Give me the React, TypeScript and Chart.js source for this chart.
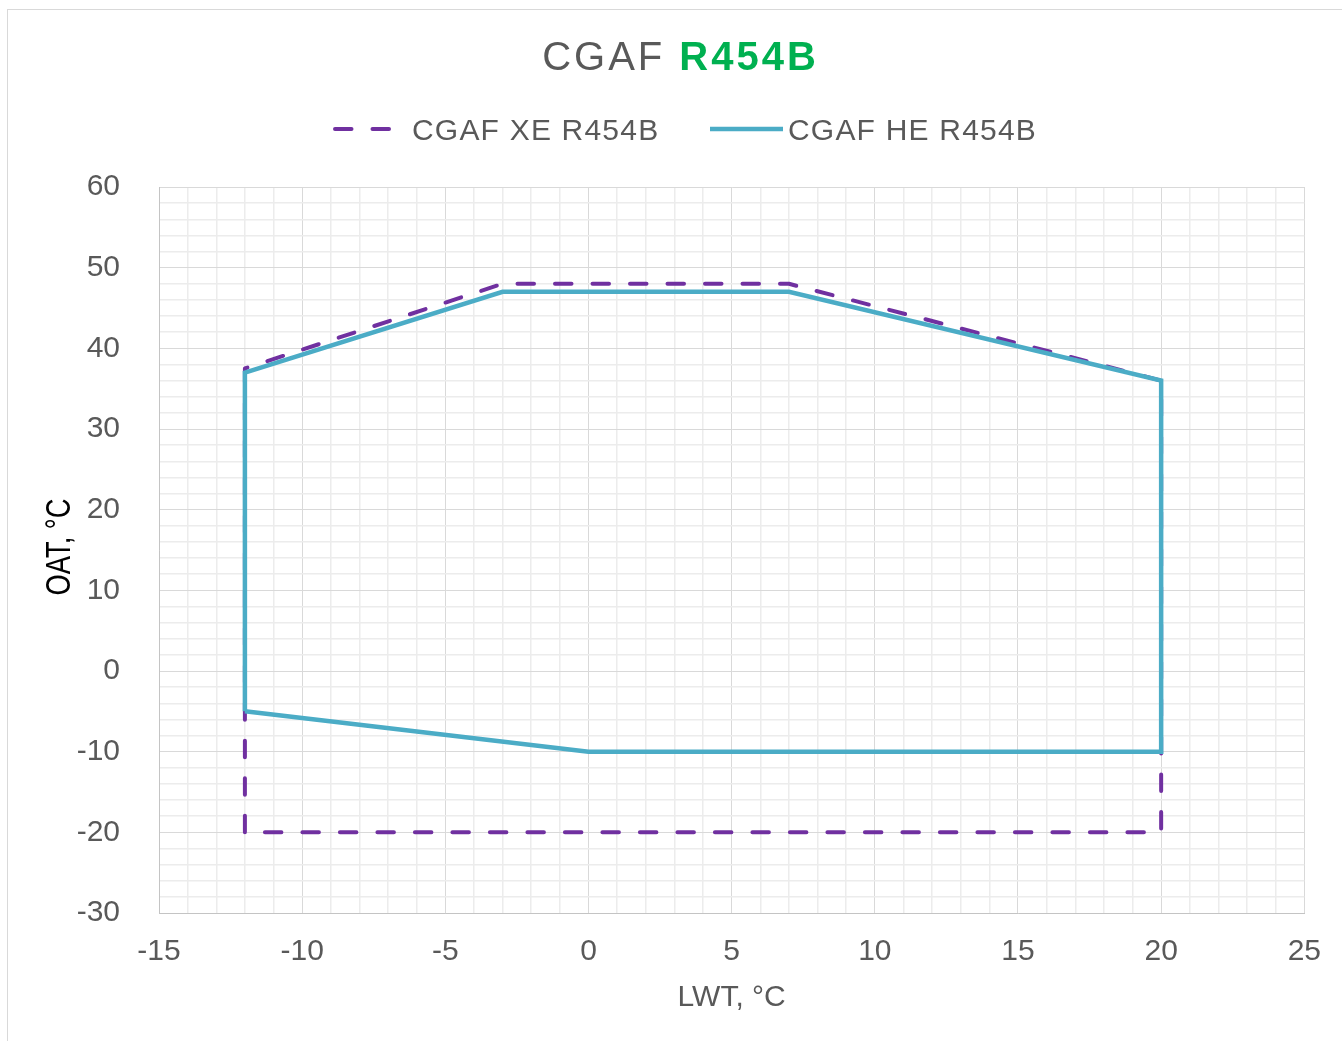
import React, { useEffect, useRef } from 'react';
import { Chart, registerables } from 'chart.js';

Chart.register(...registerables);

// ---- data ----
const titleMain = 'CGAF ';
const titleAccent = 'R454B';
const seriesNames = ['CGAF XE R454B', 'CGAF HE R454B'];
const xeLwt = [-12, -12, -3, 7, 20, 20, -12];
const xeOat = [-20, 37.5, 48, 48, 36, -20, -20];
const heLwt = [-12, -12, -3, 7, 20, 20, 0, -12];
const heOat = [-5, 37, 47, 47, 36, -10, -10, -5];
const xAxisTitle = 'LWT, °C';
const yAxisTitle = 'OAT, °C';
const xMin = -15;
const xMax = 25;
const yMin = -30;
const yMax = 60;
const xLabelStep = 5;
const yLabelStep = 10;
const xGridStep = 1;
const yGridStep = 2;

const FONT = '"Liberation Sans", Arial, sans-serif';
const XE_COLOR = '#7030A0';
const HE_COLOR = '#4BACC6';
const TEXT = '#595959';

const overlayPlugin = {
  id: 'overlay',
  afterDraw(chart: any) {
    const ctx = chart.ctx as CanvasRenderingContext2D;
    const ds = chart.data.datasets;
    ctx.save();
    // title
    (ctx as any).letterSpacing = '3px';
    ctx.textAlign = 'left';
    ctx.textBaseline = 'alphabetic';
    ctx.font = `40px ${FONT}`;
    const w1 = ctx.measureText(titleMain).width;
    ctx.font = `bold 40px ${FONT}`;
    const w2 = ctx.measureText(titleAccent).width;
    const tx = 672.5 - (w1 + w2) / 2;
    ctx.font = `40px ${FONT}`;
    ctx.fillStyle = TEXT;
    ctx.fillText(titleMain, tx, 60);
    ctx.font = `bold 40px ${FONT}`;
    ctx.fillStyle = '#00B050';
    ctx.fillText(titleAccent, tx + w1, 60);

    // legend
    (ctx as any).letterSpacing = '1.2px';
    const ly = 119;
    const items = [
      { x0: 327, x1: 382, tx: 404 },
      { x0: 702, x1: 775, tx: 780 },
    ];
    items.forEach((it, i) => {
      const d = ds[i];
      ctx.save();
      ctx.strokeStyle = d.borderColor;
      ctx.lineWidth = d.borderWidth;
      ctx.lineCap = d.borderCapStyle || 'butt';
      ctx.setLineDash(d.borderDash || []);
      ctx.beginPath();
      ctx.moveTo(it.x0, ly);
      ctx.lineTo(it.x1, ly);
      ctx.stroke();
      ctx.restore();
      ctx.font = `30px ${FONT}`;
      ctx.fillStyle = TEXT;
      ctx.textAlign = 'left';
      ctx.textBaseline = 'alphabetic';
      ctx.fillText(seriesNames[i], it.tx, 130);
    });
    (ctx as any).letterSpacing = '0px';

    // y axis title (condensed, rotated)
    ctx.translate(52, 537);
    ctx.rotate(-Math.PI / 2);
    ctx.scale(0.78, 1);
    ctx.font = `35px ${FONT}`;
    ctx.fillStyle = '#000000';
    ctx.textAlign = 'center';
    ctx.textBaseline = 'middle';
    ctx.fillText(yAxisTitle, 0, 0);
    ctx.restore();
  },
};

function toPoints(xs: number[], ys: number[]) {
  return xs.map((x, i) => ({ x, y: ys[i] }));
}

export default function App() {
  const ref = useRef<HTMLCanvasElement | null>(null);
  useEffect(() => {
    if (!ref.current) return;
    const chart = new Chart(ref.current, {
      type: 'scatter',
      data: {
        datasets: [
          {
            label: seriesNames[0],
            data: toPoints(xeLwt, xeOat),
            order: 1,
            showLine: true,
            borderColor: XE_COLOR,
            backgroundColor: XE_COLOR,
            borderWidth: 4,
            borderDash: [16.5, 21],
            borderCapStyle: 'round',
            borderJoinStyle: 'round',
            pointRadius: 0,
            pointHoverRadius: 0,
            tension: 0,
          },
          {
            label: seriesNames[1],
            data: toPoints(heLwt, heOat),
            order: 0,
            showLine: true,
            borderColor: HE_COLOR,
            backgroundColor: HE_COLOR,
            borderWidth: 4.5,
            borderJoinStyle: 'miter',
            pointRadius: 0,
            pointHoverRadius: 0,
            tension: 0,
          },
        ],
      },
      options: {
        responsive: false,
        animation: false,
        devicePixelRatio: 1,
        layout: { padding: { top: 177, left: 20, right: 36, bottom: 25 } },
        plugins: {
          legend: { display: false },
          title: { display: false },
          tooltip: { enabled: false },
        },
        scales: {
          x: {
            type: 'linear',
            min: xMin,
            max: xMax,
            afterFit: (s: any) => {
              s.height = 103;
            },
            ticks: {
              stepSize: xGridStep,
              autoSkip: false,
              maxRotation: 0,
              minRotation: 0,
              padding: 21,
              color: TEXT,
              font: { family: FONT, size: 30 },
              callback: (v: any) => (Number(v) % xLabelStep === 0 ? String(v) : ''),
            },
            grid: {
              drawTicks: false,
              color: (c: any) =>
                c.tick && c.tick.value % xLabelStep === 0 ? '#d9d9d9' : '#ececec',
              lineWidth: (c: any) =>
                c.tick && c.tick.value % xLabelStep === 0 ? 1 : 1.5,
            },
            border: { display: true, color: '#c4c4c4', width: 1 },
            title: {
              display: true,
              text: xAxisTitle,
              color: TEXT,
              font: { family: FONT, size: 30 },
              padding: { top: 0, bottom: 0 },
            },
          },
          y: {
            type: 'linear',
            min: yMin,
            max: yMax,
            afterFit: (s: any) => {
              s.width = 131;
            },
            ticks: {
              stepSize: yGridStep,
              autoSkip: false,
              padding: 39,
              color: TEXT,
              font: { family: FONT, size: 30 },
              callback: (v: any) => (Number(v) % yLabelStep === 0 ? String(v) : ''),
            },
            grid: {
              drawTicks: false,
              color: (c: any) =>
                c.tick && c.tick.value % yLabelStep === 0 ? '#d9d9d9' : '#ececec',
              lineWidth: (c: any) =>
                c.tick && c.tick.value % yLabelStep === 0 ? 1 : 1.5,
            },
            border: { display: true, color: '#c4c4c4', width: 1 },
          },
        },
      },
      plugins: [overlayPlugin],
    } as any);
    return () => chart.destroy();
  }, []);

  return (
    <div
      style={{
        position: 'absolute',
        left: 0,
        top: 0,
        width: 1342,
        height: 1041,
        overflow: 'hidden',
        background: '#ffffff',
      }}
    >
      <div
        style={{
          position: 'absolute',
          left: 7,
          top: 9,
          width: 1400,
          height: 1100,
          borderLeft: '1px solid #d9d9d9',
          borderTop: '1px solid #d9d9d9',
        }}
      >
        <div
          style={{
            position: 'absolute',
            left: 0,
            top: 0,
            width: 1315,
            height: 1031,
            overflow: 'hidden',
          }}
        >
          <canvas
            ref={ref}
            width={1334}
            height={1031}
            style={{ display: 'block', width: 1334, height: 1031 }}
          />
        </div>
      </div>
    </div>
  );
}
